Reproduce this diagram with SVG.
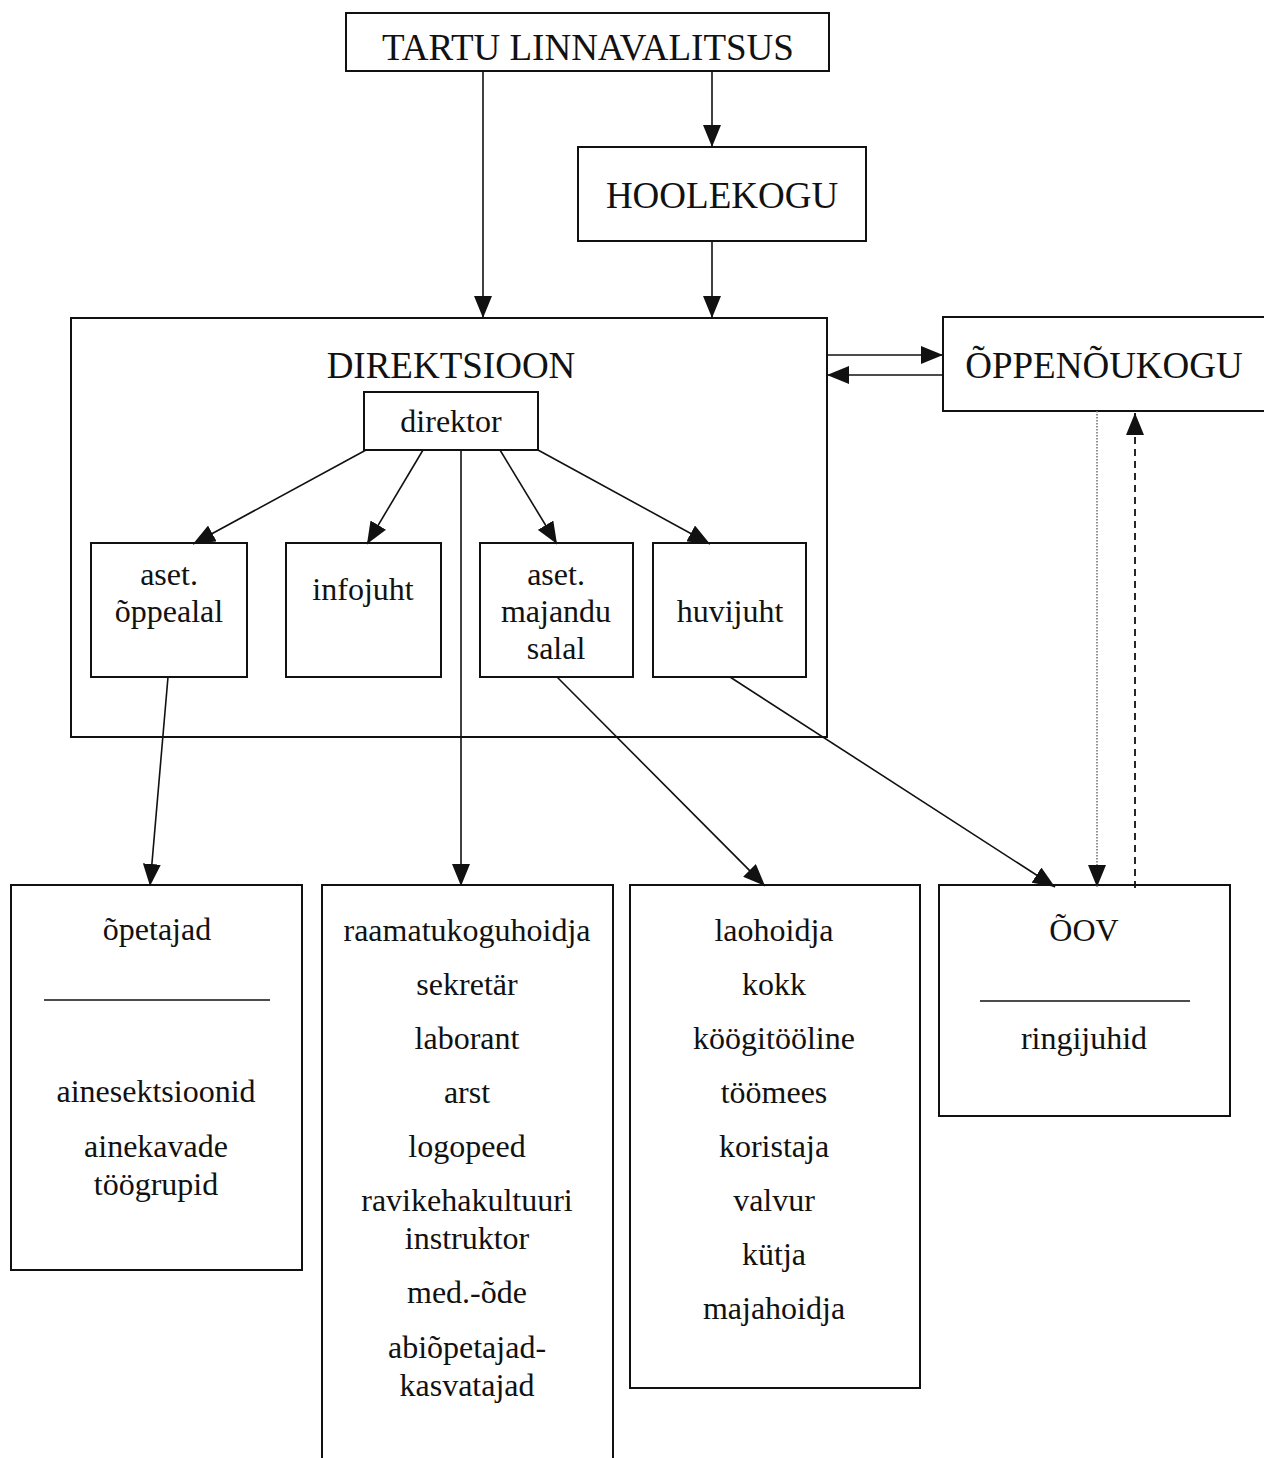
<svg xmlns="http://www.w3.org/2000/svg" width="1264" height="1458" viewBox="0 0 1264 1458">
<style>
.box{fill:#fff;stroke:#111;stroke-width:2}
.t{font-family:"Liberation Serif","Times New Roman",serif;fill:#111;text-anchor:middle}
.big{font-size:37px}
.sm{font-size:32px}
.c{stroke:#111;stroke-width:1.6;fill:none}
</style>
<defs>
<marker id="ah" viewBox="0 0 22 18" refX="22" refY="9" markerWidth="22" markerHeight="18" markerUnits="userSpaceOnUse" orient="auto">
<path d="M0,0 L22,9 L0,18 z" fill="#111"/>
</marker>
</defs>
<rect width="1264" height="1458" fill="#fff"/>

<g id="direktsioon">
<rect class="box" x="71" y="318" width="756" height="419"/>
<text class="t big" x="451" y="378">DIREKTSIOON</text>
</g>
<g id="tartu">
<rect class="box" x="346" y="13" width="483" height="58"/>
<text class="t big" x="588" y="60">TARTU LINNAVALITSUS</text>
</g>
<g id="hoolekogu">
<rect class="box" x="578" y="147" width="288" height="94"/>
<text class="t big" x="722" y="208">HOOLEKOGU</text>
</g>
<g id="oppenoukogu">
<rect class="box" x="943" y="317" width="330" height="94"/>
<text class="t big" x="1104" y="378">ÕPPENÕUKOGU</text>
</g>
<g id="direktor">
<rect class="box" x="364" y="392" width="174" height="58"/>
<text class="t sm" x="451" y="432">direktor</text>
</g>
<g id="aset-oppealal">
<rect class="box" x="91" y="543" width="156" height="134"/>
<text class="t sm" x="169" y="585">aset.</text>
<text class="t sm" x="169" y="622">õppealal</text>
</g>
<g id="infojuht">
<rect class="box" x="286" y="543" width="155" height="134"/>
<text class="t sm" x="363" y="600">infojuht</text>
</g>
<g id="aset-majandusalal">
<rect class="box" x="480" y="543" width="153" height="134"/>
<text class="t sm" x="556" y="585">aset.</text>
<text class="t sm" x="556" y="622">majandu</text>
<text class="t sm" x="556" y="659">salal</text>
</g>
<g id="huvijuht">
<rect class="box" x="653" y="543" width="153" height="134"/>
<text class="t sm" x="730" y="622">huvijuht</text>
</g>

<g id="opetajad">
<rect class="box" x="11" y="885" width="291" height="385"/>
<text class="t sm" x="157" y="940">õpetajad</text>
<line x1="44" y1="1000" x2="270" y2="1000" stroke="#111" stroke-width="1.6"/>
<text class="t sm" x="156" y="1102">ainesektsioonid</text>
<text class="t sm" x="156" y="1157">ainekavade</text>
<text class="t sm" x="156" y="1195">töögrupid</text>
</g>
<g id="personal">
<path class="box" d="M322,1460 L322,885 L613,885 L613,1460" />
<text class="t sm" x="467" y="941">raamatukoguhoidja</text>
<text class="t sm" x="467" y="995">sekretär</text>
<text class="t sm" x="467" y="1049">laborant</text>
<text class="t sm" x="467" y="1103">arst</text>
<text class="t sm" x="467" y="1157">logopeed</text>
<text class="t sm" x="467" y="1211">ravikehakultuuri</text>
<text class="t sm" x="467" y="1249">instruktor</text>
<text class="t sm" x="467" y="1303">med.-õde</text>
<text class="t sm" x="467" y="1358">abiõpetajad-</text>
<text class="t sm" x="467" y="1396">kasvatajad</text>
</g>
<g id="majandus">
<rect class="box" x="630" y="885" width="290" height="503"/>
<text class="t sm" x="774" y="941">laohoidja</text>
<text class="t sm" x="774" y="995">kokk</text>
<text class="t sm" x="774" y="1049">köögitööline</text>
<text class="t sm" x="774" y="1103">töömees</text>
<text class="t sm" x="774" y="1157">koristaja</text>
<text class="t sm" x="774" y="1211">valvur</text>
<text class="t sm" x="774" y="1265">kütja</text>
<text class="t sm" x="774" y="1319">majahoidja</text>
</g>
<g id="oov">
<rect class="box" x="939" y="885" width="291" height="231"/>
<text class="t sm" x="1084" y="941">ÕOV</text>
<line x1="980" y1="1001" x2="1190" y2="1001" stroke="#111" stroke-width="1.6"/>
<text class="t sm" x="1084" y="1049">ringijuhid</text>
</g>

<g id="connectors">
<line class="c" x1="712" y1="71" x2="712" y2="147" marker-end="url(#ah)"/>
<line class="c" x1="483" y1="71" x2="483" y2="318" marker-end="url(#ah)"/>
<line class="c" x1="712" y1="241" x2="712" y2="318" marker-end="url(#ah)"/>
<line class="c" x1="827" y1="355" x2="943" y2="355" marker-end="url(#ah)"/>
<line class="c" x1="943" y1="375" x2="827" y2="375" marker-end="url(#ah)"/>
<line class="c" x1="366" y1="450" x2="193" y2="544" marker-end="url(#ah)"/>
<line class="c" x1="423" y1="450" x2="367" y2="544" marker-end="url(#ah)"/>
<line class="c" x1="500" y1="450" x2="557" y2="544" marker-end="url(#ah)"/>
<line class="c" x1="538" y1="450" x2="710" y2="544" marker-end="url(#ah)"/>
<line class="c" x1="461" y1="450" x2="461" y2="886" marker-end="url(#ah)"/>
<line class="c" x1="168" y1="677" x2="150" y2="886" marker-end="url(#ah)"/>
<line class="c" x1="557" y1="677" x2="765" y2="886" marker-end="url(#ah)"/>
<line class="c" x1="730" y1="677" x2="1055" y2="887" marker-end="url(#ah)"/>
<line x1="1097" y1="411" x2="1097" y2="887" stroke="#777" stroke-width="1.6" stroke-dasharray="1.5 1.5" marker-end="url(#ah)"/>
<line x1="1135" y1="888" x2="1135" y2="413" stroke="#111" stroke-width="1.8" stroke-dasharray="7 5" marker-end="url(#ah)"/>
</g>
</svg>
